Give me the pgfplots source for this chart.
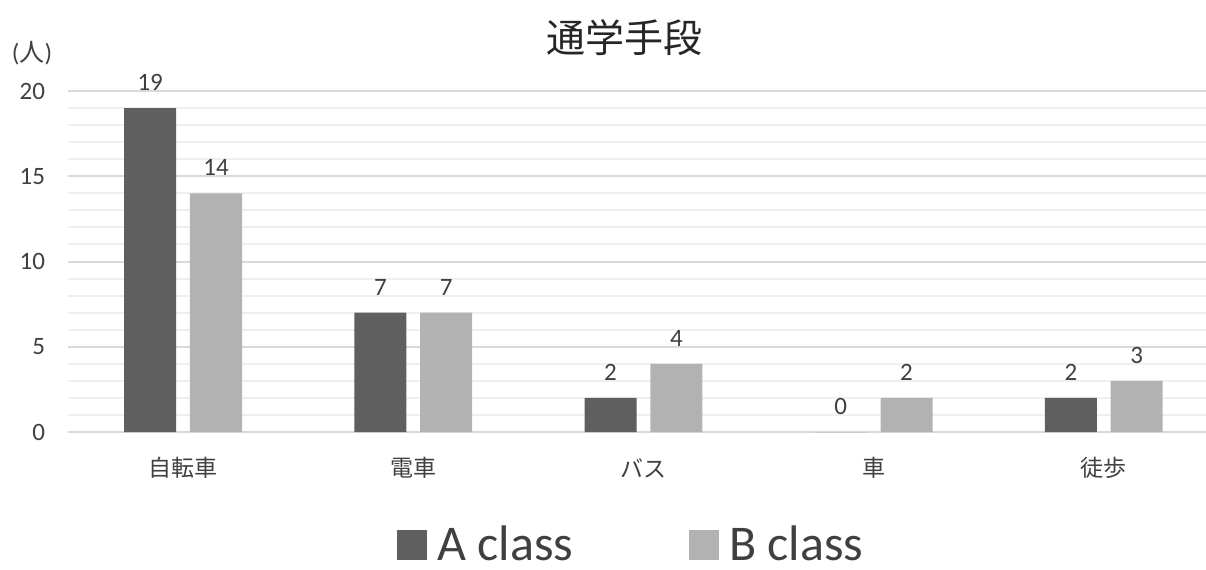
\documentclass[border=0pt]{standalone}
\usepackage{pgfplots}
\pgfplotsset{compat=1.18}
\usepackage{fontspec}
\setmainfont{Carlito}
\newfontfamily\cjk{Noto Sans CJK JP}
\definecolor{barA}{HTML}{5F5F5F}
\definecolor{barB}{HTML}{B2B2B2}
\definecolor{majgrid}{HTML}{D9D9D9}
\definecolor{mingrid}{HTML}{EFEFEF}
\definecolor{txt}{HTML}{404040}
\begin{document}
\begin{tikzpicture}
\path[use as bounding box] (0,0) rectangle (603pt,284.5pt);
\begin{axis}[
  at={(34pt,68.5pt)}, anchor=south west,
  scale only axis, width=569pt, height=170.5pt,
  xmin=-0.5, xmax=4.444, ymin=0, ymax=20,
  ybar, bar width=0.226,
  axis line style={draw=none},
  /pgf/number format/assume math mode=true,
  ytick={0,5,...,20}, minor ytick={1,...,19},
  ymajorgrids, yminorgrids,
  major grid style={majgrid, line width=1pt},
  minor grid style={mingrid, line width=1pt},
  major tick length=0pt, minor tick length=0pt,
  xtick={0,1,2,3,4}, xticklabels={自転車,電車,バス,車,徒歩},
  xticklabel style={font=\cjk\fontsize{11.5}{12}\selectfont, text=txt, anchor=center, yshift=-18pt},
  yticklabel style={font=\fontsize{12.5}{14}\selectfont, text=txt, anchor=east, xshift=-8pt},
  nodes near coords,
  every node near coord/.append style={font=\fontsize{12.5}{14}\selectfont, text=txt, anchor=center, yshift=12.75pt},
  legend columns=2,
  legend style={at={(0.496,-0.33)}, anchor=center, draw=none, fill=none,
    font=\fontsize{25}{26}\selectfont, text=txt, inner sep=0pt,
    /tikz/every odd column/.append style={column sep=3pt},
    /tikz/every even column/.append style={column sep=56pt}},
  clip=false,
]
\addplot[fill=barA, draw=none, bar shift=-0.143,
  legend image code/.code={\fill[barA] (0pt,-7.5pt) rectangle (15pt,7.5pt);}]
  coordinates {(0,19) (1,7) (2,2) (3,0) (4,2)};
\addlegendentry{A class}
\addplot[fill=barB, draw=none, bar shift=0.143,
  legend image code/.code={\fill[barB] (0pt,-7.5pt) rectangle (15pt,7.5pt);}]
  coordinates {(0,14) (1,7) (2,4) (3,2) (4,3)};
\addlegendentry{B class}
\end{axis}
\node[font=\cjk\fontsize{19.5}{22}\selectfont, text=black!85] at (312pt,265.5pt) {通学手段};
\node[font=\fontsize{12.5}{14}\selectfont, text=txt] at (16pt,258pt) {({\cjk 人})};
\end{tikzpicture}
\end{document}
